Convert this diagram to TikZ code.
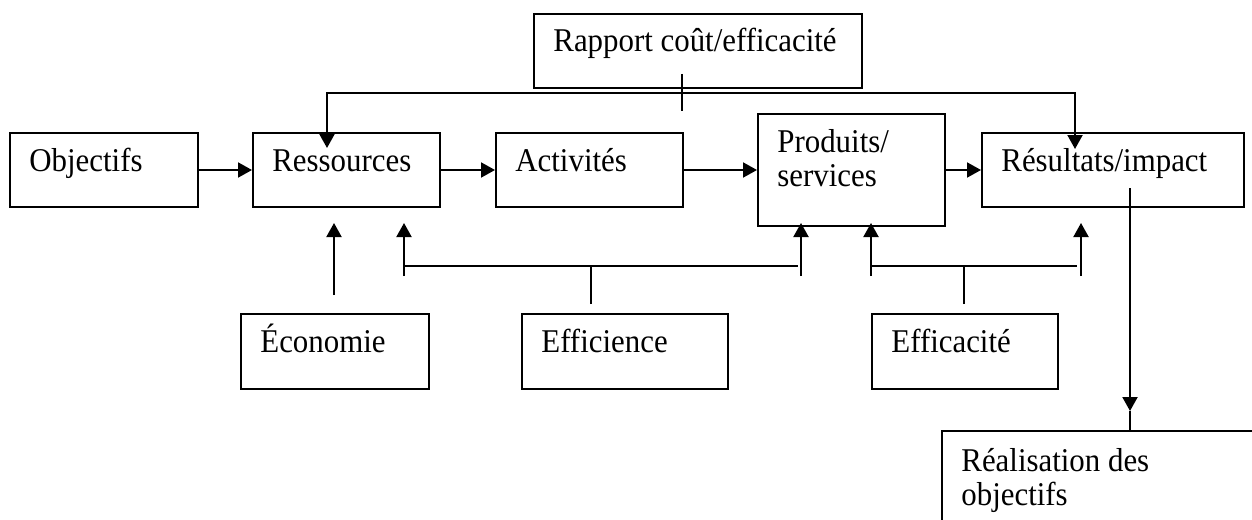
\documentclass[tikz,border=0pt]{standalone}
\usepackage{fontspec}
\setmainfont{Liberation Serif}[FakeStretch=0.93]
\usetikzlibrary{arrows.meta,calc}
\tikzset{
  box/.style={draw=black, line width=1pt, inner sep=0pt, fill=none},
  txt/.style={inner sep=0pt, align=left, font=\fontsize{16.6}{17}\selectfont},
  ln/.style={line width=1pt},
  arr/.style={line width=1pt, -{Triangle[length=7pt,width=7.5pt]}},
}
\newcommand\bx[7][39]{%
  \node[box, minimum width=#5*0.5pt, minimum height=#6*0.5pt, anchor=north west] (#2) at (#3,#4) {};
  \node[txt, anchor=base west] (#2-t) at ($(#2.north west)+(20,#1)$) {#7};}
\begin{document}
\begin{tikzpicture}[x=0.5pt,y=-0.5pt]
\clip (0,0) rectangle (1252,519);
\fill[white] (0,0) rectangle (1252,519);
% boxes
\bx{rap}{533}{13}{328}{74}{Rapport coût/efficacité}
\bx{obj}{9}{132}{188}{74}{Objectifs}
\bx{res}{252}{132}{187}{74}{Ressources}
\bx{act}{495}{132}{187}{74}{Activités}
\bx[73]{prod}{757}{113}{187}{112}{Produits/\\services}
\bx{resu}{981}{132}{262}{74}{Résultats/impact}
\bx{eco}{240}{313}{188}{75}{Économie}
\bx{effi}{521}{313}{206}{75}{Efficience}
\bx{effa}{871}{313}{186}{75}{Efficacité}
\bx[75]{real}{941}{430}{340}{120}{Réalisation des\\objectifs}
% main chain
\draw[arr] (obj.east) -- (res.west);
\draw[arr] (res.east) -- (act.west);
\draw[arr] (act.east) -- (prod.west);
\draw[arr] (prod.east) -- (resu.west);
% cost-effectiveness bracket
\coordinate (hL) at (327,93);
\coordinate (hR) at (1075,93);
\coordinate (t1) at (682,74);
\coordinate (t2) at (682,111);
\draw[ln] (t1) -- (t2);
\draw[arr] (t1|-hL) -- (hL) -- ($(hL|-res.north)+(0,16)$);
\draw[arr] (t1|-hL) -- (hR) -- ($(hR|-resu.north)+(0,17)$);
% economy
\coordinate (e1) at (334,295);
\draw[arr] (e1) -- ($(e1|-res.south)+(0,15)$);
% efficiency bracket
\coordinate (f1) at (404,276);
\coordinate (f2) at (801,276);
\coordinate (fs) at (591,304);
\draw[arr] (f1) -- ($(f1|-res.south)+(0,15)$);
\draw[arr] (f2) -- ($(f2|-prod.south)+(0,-4)$);
\draw[ln] (404,266) -- (798,266);
\draw[ln] (fs) -- (591,266);
% effectiveness bracket
\coordinate (g1) at (871,276);
\coordinate (g2) at (1081,276);
\coordinate (gs) at (964,304);
\draw[arr] (g1) -- ($(g1|-prod.south)+(0,-4)$);
\draw[arr] (g2) -- ($(g2|-resu.south)+(0,15)$);
\draw[ln] (871,266) -- (1077,266);
\draw[ln] (gs) -- (964,266);
% results to achievement
\coordinate (r1) at (1130,188);
\coordinate (r2) at (1130,411);
\draw[arr] (r1) -- (r2);
\draw[ln] (r2) -- (r2|-real.north);
\end{tikzpicture}
\end{document}
